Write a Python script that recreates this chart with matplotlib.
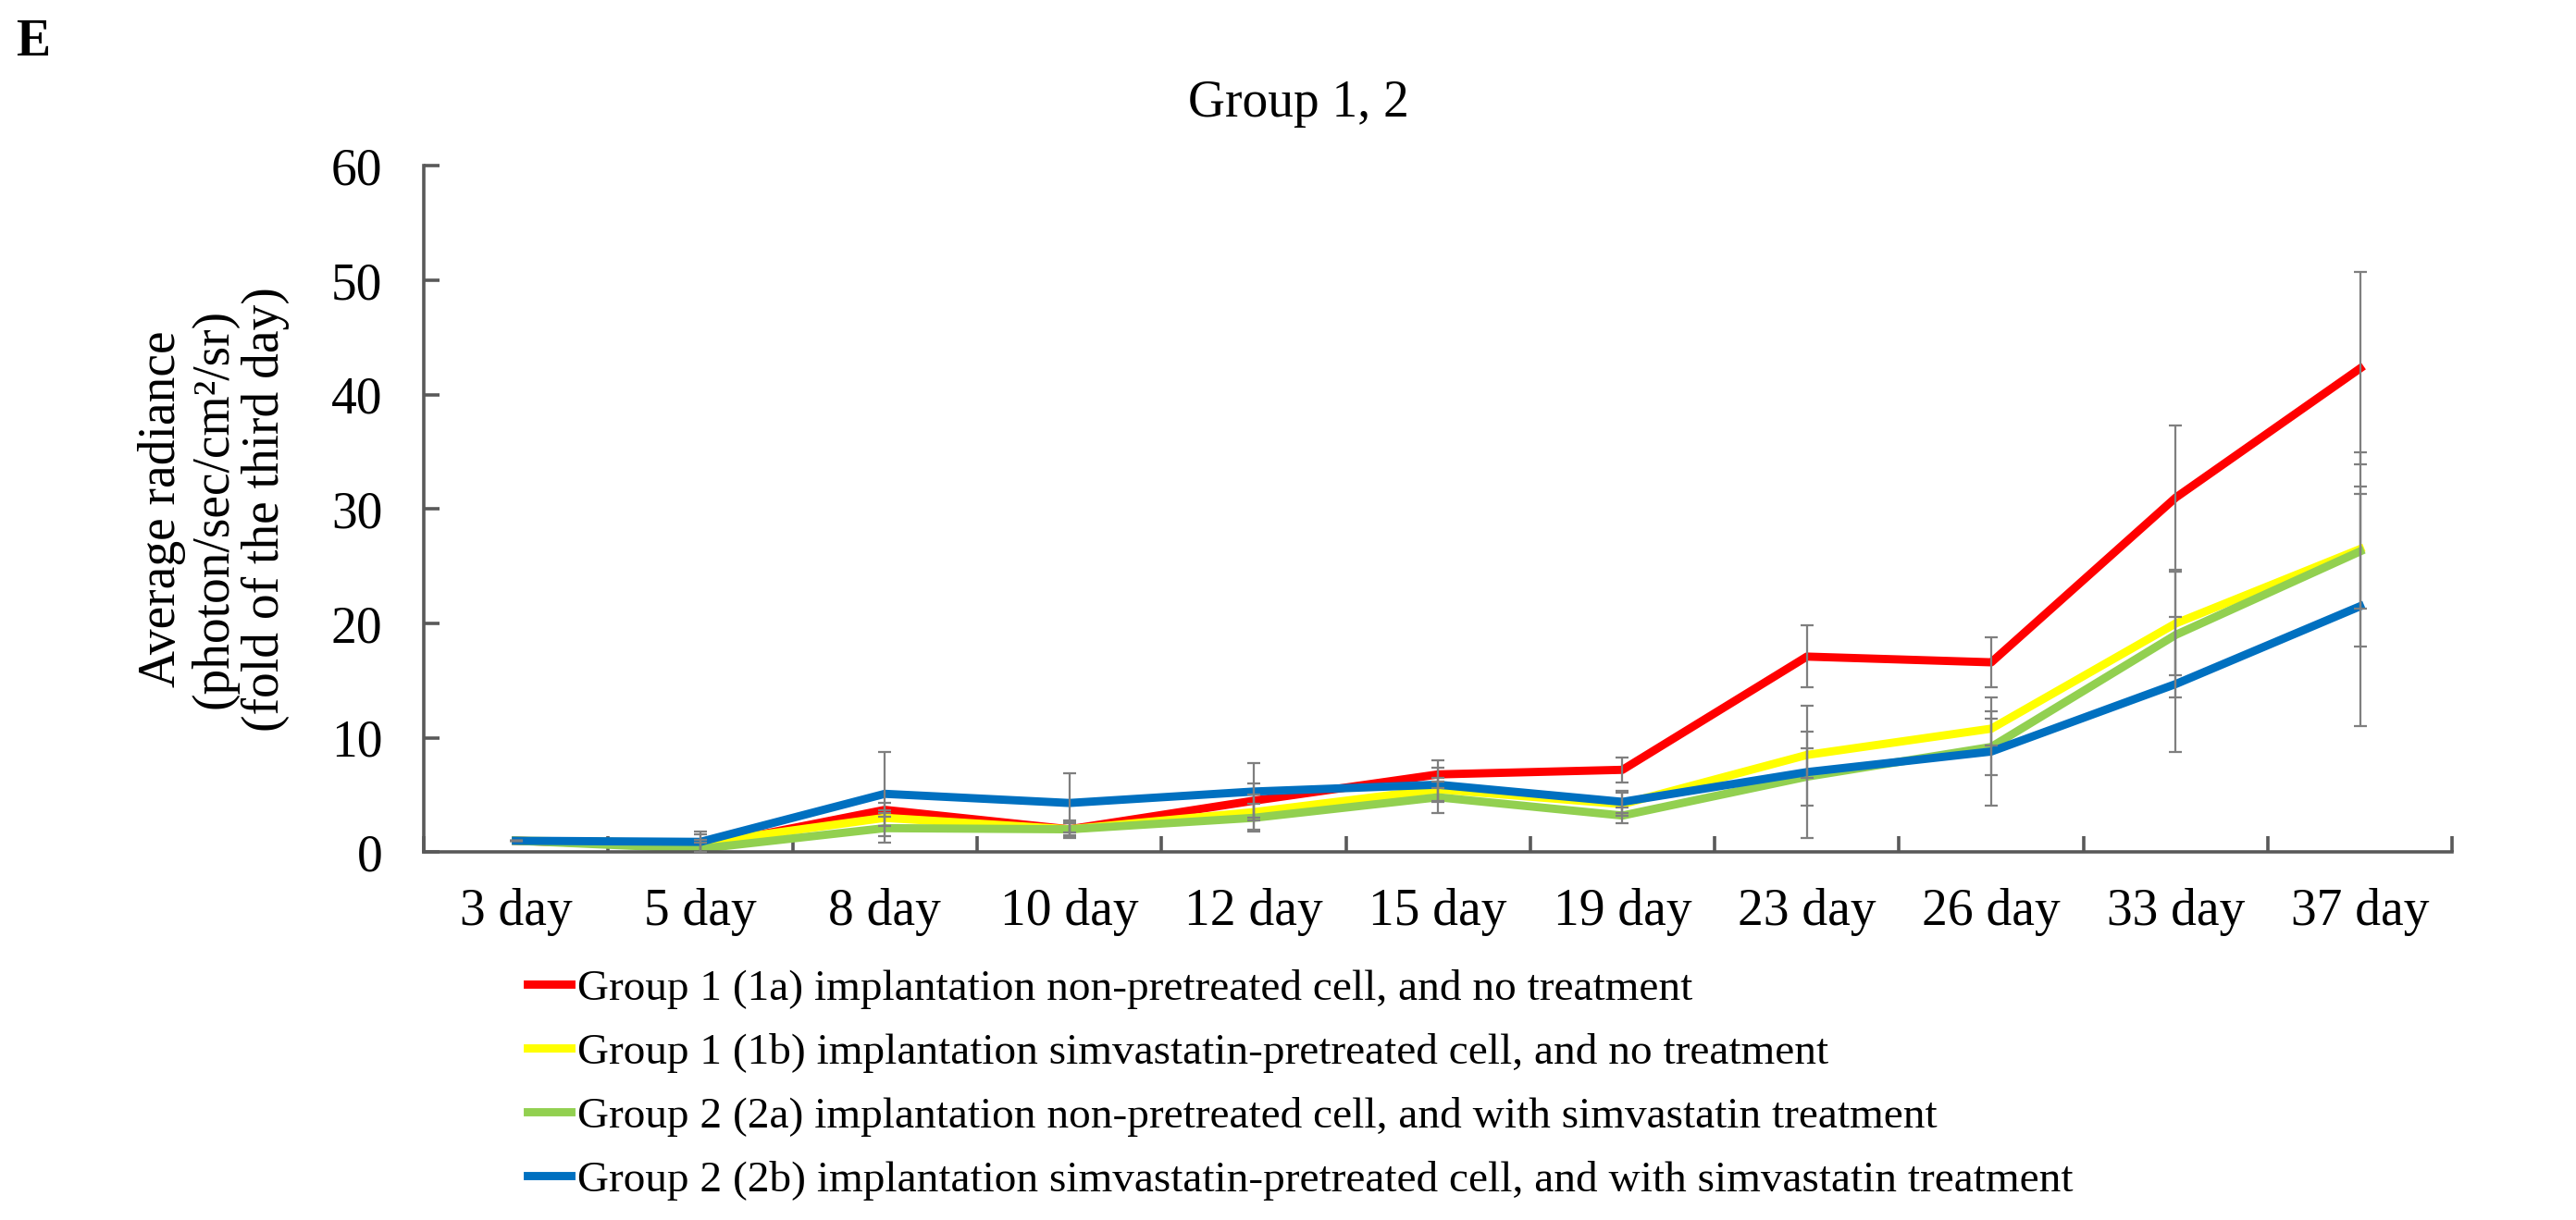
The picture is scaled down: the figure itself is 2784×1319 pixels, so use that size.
import matplotlib
matplotlib.use('Agg')
import matplotlib.pyplot as plt
import numpy as np

plt.rcParams['font.family'] = ['Liberation Serif', 'DejaVu Serif']

# categories and series values
days = ['3 day', '5 day', '8 day', '10 day', '12 day', '15 day', '19 day',
        '23 day', '26 day', '33 day', '37 day']
g1a = [1.0, 0.5, 3.7, 2.0, 4.5, 6.8, 7.2, 17.1, 16.6, 31.0, 42.3]
g1b = [1.0, 0.8, 3.0, 2.0, 3.5, 5.5, 4.2, 8.5, 10.8, 20.0, 26.5]
g2a = [1.0, 0.3, 2.1, 2.0, 3.0, 4.8, 3.2, 6.6, 9.2, 19.0, 26.3]
g2b = [1.0, 0.9, 5.1, 4.3, 5.3, 5.9, 4.4, 7.0, 8.8, 14.7, 21.5]

# error bar half-widths
g1a_err = [0.0, 0.6, 0.6, 0.5, 1.5, 1.2, 1.1, 2.7, 2.2, 6.3, 8.4]
g1b_err = [0.0, 0.8, 0.7, 0.6, 1.5, 1.0, 1.0, 2.0, 1.5, 4.5, 8.5]
g2a_err = [0.0, 0.5, 1.3, 0.8, 1.2, 1.4, 0.7, 2.5, 2.5, 5.5, 5.0]
g2b_err = [0.0, 0.9, 3.7, 2.6, 2.5, 1.5, 1.0, 5.8, 4.7, 5.9, 10.5]

labels = ['Group 1 (1a) implantation non-pretreated cell, and no treatment',
          'Group 1 (1b) implantation simvastatin-pretreated cell, and no treatment',
          'Group 2 (2a) implantation non-pretreated cell, and with simvastatin treatment',
          'Group 2 (2b) implantation simvastatin-pretreated cell, and with simvastatin treatment']
colors = ['#FF0000', '#FFFF00', '#92D050', '#0070C0']

series = [g1a, g1b, g2a, g2b]
errs = [g1a_err, g1b_err, g2a_err, g2b_err]

fig = plt.figure(figsize=(13.92, 6.595), dpi=200)
ax = fig.add_axes([0.1645, 0.3015, 0.7875, 0.5625])

x = np.arange(len(days))
for vals, err, col, lab in zip(series, errs, colors, labels):
    ax.plot(x, vals, color=col, lw=3.2, label=lab, zorder=2)
for vals, err in zip(series, errs):
    ax.errorbar(x, vals, yerr=err, fmt='none', ecolor='#7f7f7f',
                elinewidth=0.8, capsize=2.5, capthick=0.8, zorder=3)

ax.set_xlim(-0.5, len(days) - 0.5)
ax.set_ylim(0, 60)
ax.set_yticks(range(0, 61, 10))
ax.set_xticks(x)
ax.set_xticklabels(days)
ax.set_xticks(np.arange(-0.5, len(days), 1), minor=True)

for s in ['top', 'right']:
    ax.spines[s].set_visible(False)
for s in ['left', 'bottom']:
    ax.spines[s].set_color('#595959')
    ax.spines[s].set_linewidth(1.3)

ax.tick_params(axis='x', which='major', length=0, pad=14, labelsize=20)
ax.tick_params(axis='x', which='minor', direction='in', length=6, width=1.3, color='#595959')
ax.tick_params(axis='y', direction='in', length=6, width=1.3, color='#595959', pad=16, labelsize=20)

ax.set_ylabel('Average radiance\n(photon/sec/cm²/sr)\n(fold of the third day)',
              fontsize=20, linespacing=1.1, labelpad=16)

fig.text(0.504, 0.915, 'Group 1, 2', ha='center', va='center', fontsize=20)
fig.text(0.006, 0.965, 'E', ha='left', va='center', fontsize=20, fontweight='bold')

fig.legend(loc='upper left', bbox_to_anchor=(0.198, 0.22), frameon=False,
           fontsize=17, handlelength=1.0, handletextpad=0.15, labelspacing=0.55,
           borderaxespad=0)

fig.savefig('out.png', dpi=200)
